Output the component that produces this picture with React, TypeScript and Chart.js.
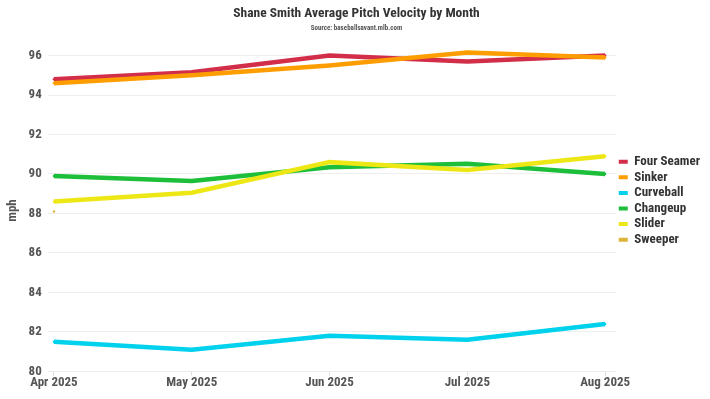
import React, { useEffect, useRef } from "react";
import { Chart, registerables } from "chart.js";

Chart.register(...registerables);

const months = ["Apr 2025", "May 2025", "Jun 2025", "Jul 2025", "Aug 2025"];
const fourSeamer = [94.8, 95.15, 96.0, 95.7, 96.0];
const sinker = [94.6, 95.0, 95.5, 96.15, 95.9];
const curveball = [81.5, 81.1, 81.8, 81.6, 82.4];
const changeup = [89.9, 89.64, 90.34, 90.52, 90.0];
const slider = [88.6, 89.05, 90.6, 90.2, 90.9];
const sweeper: (number | null)[] = [88.1, null, null, null, null];
const yTicks = [80, 82, 84, 86, 88, 90, 92, 94, 96];

const FONT = "Roboto, sans-serif";
const BOLD = "bold condensed";

const series = [
  { label: "Four Seamer", data: fourSeamer, color: "#d22d49" },
  { label: "Sinker", data: sinker, color: "#fe9d00" },
  { label: "Curveball", data: curveball, color: "#00d1ed" },
  { label: "Changeup", data: changeup, color: "#1dbe3a" },
  { label: "Slider", data: slider, color: "#eee716" },
  { label: "Sweeper", data: sweeper, color: "#ddb33a" },
];

export default function App() {
  const ref = useRef<HTMLCanvasElement>(null);
  useEffect(() => {
    if (!ref.current) return;
    const chart = new Chart(ref.current, {
      type: "line",
      data: {
        datasets: series.map((s, i) => ({
          label: s.label,
          data: s.data.map((v, j) => ({ x: j, y: v })),
          borderColor: s.color,
          backgroundColor: s.color,
          borderWidth: 4.5,
          pointRadius: 1.2,
          pointBorderWidth: 0,
          pointHoverRadius: 2,
          tension: 0,
          spanGaps: false,
          order: series.length - i,
        })),
      },
      options: {
        animation: false,
        responsive: false,
        maintainAspectRatio: false,
        layout: { padding: { left: 3, right: 0, top: 4, bottom: 8 } },
        plugins: {
          title: {
            display: true,
            text: "Shane Smith Average Pitch Velocity by Month",
            color: "#333333",
            font: { family: FONT, size: 13.5, weight: BOLD as any },
            padding: { top: 2, bottom: 0 },
          },
          subtitle: {
            display: true,
            text: "Source: baseballsavant.mlb.com",
            color: "#555555",
            font: { family: FONT, size: 7, weight: BOLD as any },
            padding: { top: 2, bottom: 17 },
          },
          legend: {
            position: "right",
            align: "center",
            title: { display: true, text: " ", font: { size: 2 }, padding: 2 },
            labels: {
              boxWidth: 9,
              boxHeight: 4,
              padding: 2.6,
              color: "#333333",
              font: { family: FONT, size: 13, weight: BOLD as any },
              sort: (a: any, b: any) => a.datasetIndex - b.datasetIndex,
              generateLabels: (c: any) =>
                Chart.defaults.plugins.legend.labels
                  .generateLabels(c)
                  .map((l: any) => ({ ...l, lineWidth: 0 })),
            },
          },
          tooltip: { enabled: false },
        },
        scales: {
          x: {
            type: "linear",
            min: -0.045,
            max: 4.08,
            afterBuildTicks: (axis: any) => {
              axis.ticks = months.map((_, i) => ({ value: i }));
            },
            ticks: {
              callback: (v: any) => months[v as number] ?? "",
              color: "#555555",
              font: { family: FONT, size: 13, weight: BOLD as any },
              padding: 0,
              maxRotation: 0,
              autoSkip: false,
            },
            grid: { drawOnChartArea: false, drawTicks: true, tickLength: 4, color: "#dddddd" },
            border: { display: false },
          },
          y: {
            min: 80,
            max: 96.3,
            afterBuildTicks: (axis: any) => {
              axis.ticks = yTicks.map((v) => ({ value: v }));
            },
            ticks: {
              color: "#555555",
              font: { family: FONT, size: 13, weight: BOLD as any },
              padding: 6,
            },
            title: {
              display: true,
              text: "mph",
              color: "#555555",
              font: { family: FONT, size: 13, weight: BOLD as any },
              padding: 2,
            },
            grid: { color: "#eeeeee", drawTicks: false },
            border: { display: false },
          },
        },
      },
    });
    return () => chart.destroy();
  }, []);
  return (
    <div style={{ position: "fixed", left: 0, top: 0, width: 710, height: 399, background: "#fff" }}>
      <canvas ref={ref} width={710} height={399} />
    </div>
  );
}
